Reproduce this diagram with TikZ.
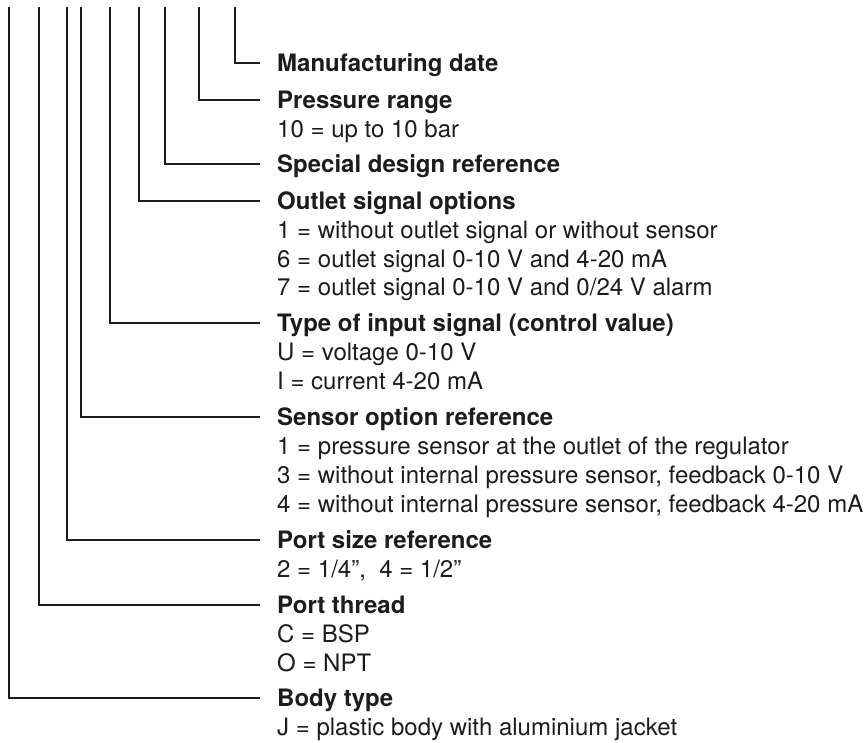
\documentclass[tikz,border=0pt]{standalone}
\usepackage{fontspec}
\setmainfont{TeX Gyre Heros}
\definecolor{ink}{HTML}{1C1C1C}
\begin{document}
\begin{tikzpicture}[x=1pt,y=-1pt,
  hd/.style={anchor=base west, inner sep=0pt, text=ink, font=\fontsize{24}{29}\selectfont\bfseries},
  ln/.style={anchor=base west, inner sep=0pt, text=ink, font=\fontsize{24}{29}\selectfont},
  wire/.style={draw=ink, line width=1.8pt, line join=miter}]
\useasboundingbox (0,0) rectangle (866,743);
% headings
\node[hd] (h1) at (277,71.8)  {Manufacturing date};
\node[hd] (h2) at (277,108.5) {Pressure range};
\node[ln] (s21) at (277,137.5) {10 = up to 10 bar};
\node[hd] (h3) at (277,172.8) {Special design reference};
\node[hd] (h4) at (277,209.5) {Outlet signal options};
\node[ln] (s41) at (277,238.5) {1 = without outlet signal or without sensor};
\node[ln] (s42) at (277,267.2) {6 = outlet signal 0-10 V and 4-20 mA};
\node[ln] (s43) at (277,295.9) {7 = outlet signal 0-10 V and 0/24 V alarm};
\node[hd] (h5) at (277,331.8) {Type of input signal (control value)};
\node[ln] (s51) at (277,360.8) {U = voltage 0-10 V};
\node[ln] (s52) at (277,389.5) {I = current 4-20 mA};
\node[hd] (h6) at (277,425.8) {Sensor option reference};
\node[ln] (s61) at (277,454.8) {1 = pressure sensor at the outlet of the regulator};
\node[ln] (s62) at (277,483.5) {3 = without internal pressure sensor, feedback 0-10 V};
\node[ln] (s63) at (277,512.2) {4 = without internal pressure sensor, feedback 4-20 mA};
\node[hd] (h7) at (277,548.5) {Port size reference};
\node[ln] (s71) at (277,577.5) {2 = 1/4”,\ \ 4 = 1/2”};
\node[hd] (h8) at (277,613.5) {Port thread};
\node[ln] (s81) at (277,642.5) {C = BSP};
\node[ln] (s82) at (277,671.2) {O = NPT};
\node[hd] (h9) at (277,706.8) {Body type};
\node[ln] (s91) at (277,735.8) {J = plastic body with aluminium jacket};
% tops of the code lines
\coordinate (t1) at (235.3,7);
\coordinate (t2) at (199,7);
\coordinate (t3) at (165,7);
\coordinate (t4) at (139.3,7);
\coordinate (t5) at (110,7);
\coordinate (t6) at (81,7);
\coordinate (t7) at (67.3,7);
\coordinate (t8) at (39,7);
\coordinate (t9) at (9,7);
% connectors
\foreach \i in {1,...,9}{
  \draw[wire] (t\i) |- ([xshift=-17pt,yshift=8.5pt]h\i.base west);
}
\end{tikzpicture}
\end{document}
